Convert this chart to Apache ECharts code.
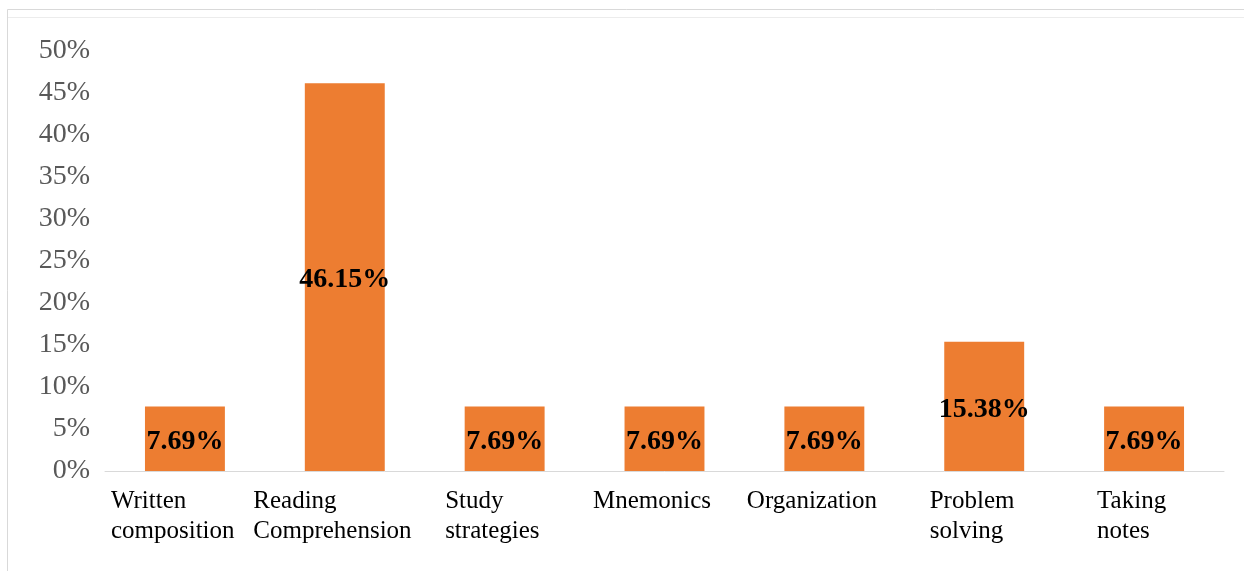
<!DOCTYPE html>
<html>
<head>
<meta charset="utf-8">
<script src="https://cdn.jsdelivr.net/npm/echarts@6/dist/echarts.min.js"></script>
<style>html,body{margin:0;padding:0;background:#fff}#c{width:1244px;height:571px}</style>
</head>
<body>
<div id="c"></div>
<script>
const categories = ['Written\ncomposition', 'Reading\nComprehension', 'Study\nstrategies', 'Mnemonics', 'Organization', 'Problem\nsolving', 'Taking\nnotes'];
const values = [7.69, 46.15, 7.69, 7.69, 7.69, 15.38, 7.69];
const yTicks = [0, 5, 10, 15, 20, 25, 30, 35, 40, 45, 50];

const FONT = '"Liberation Serif", "Times New Roman", serif';
const XFS = 25;
const cv = document.createElement('canvas').getContext('2d');
cv.font = XFS + 'px ' + FONT;
const rich = {};
categories.forEach((c, i) => {
  const w = Math.max(...c.split('\n').map(s => cv.measureText(s).width));
  rich['w' + i] = {width: Math.ceil(w), align: 'left', fontFamily: FONT, fontSize: XFS, lineHeight: 30, color: '#000', padding: [0, 24, 0, 0]};
});

const chart = echarts.init(document.getElementById('c'));
chart.setOption({
  animation: false,
  backgroundColor: '#fff',
  graphic: [
    {type: 'rect', shape: {x: 7.5, y: 9.5, width: 1300, height: 700}, style: {fill: 'none', stroke: '#d9d9d9', lineWidth: 1}},
    {type: 'line', shape: {x1: 8, y1: 17.5, x2: 1244, y2: 17.5}, style: {stroke: '#ececec', lineWidth: 1}}
  ],
  grid: {left: 105, right: 20, top: 51, bottom: 100, containLabel: false},
  xAxis: {
    type: 'category',
    data: categories,
    axisLine: {lineStyle: {color: '#d9d9d9', width: 1}},
    axisTick: {show: false},
    axisLabel: {
      interval: 0,
      margin: 15,
      formatter: (v, i) => v.split('\n').map(s => '{w' + i + '|' + s + '}').join('\n'),
      rich: rich
    }
  },
  yAxis: {
    type: 'value',
    min: 0, max: 50, interval: 5,
    splitLine: {show: false},
    axisLine: {show: false},
    axisTick: {show: false},
    axisLabel: {
      formatter: v => yTicks.includes(v) ? v + '%' : '',
      fontFamily: FONT, fontSize: 28, color: '#595959', margin: 15,
      padding: [4, 0, 0, 0]
    }
  },
  series: [{
    type: 'bar',
    data: values,
    barWidth: '50%',
    itemStyle: {color: '#ED7D31'},
    label: {
      show: true, position: 'inside',
      offset: [0, 3],
      formatter: p => p.value.toFixed(2) + '%',
      fontFamily: FONT, fontWeight: 'bold', fontSize: 28, color: '#000'
    }
  }]
});
</script>
</body>
</html>
